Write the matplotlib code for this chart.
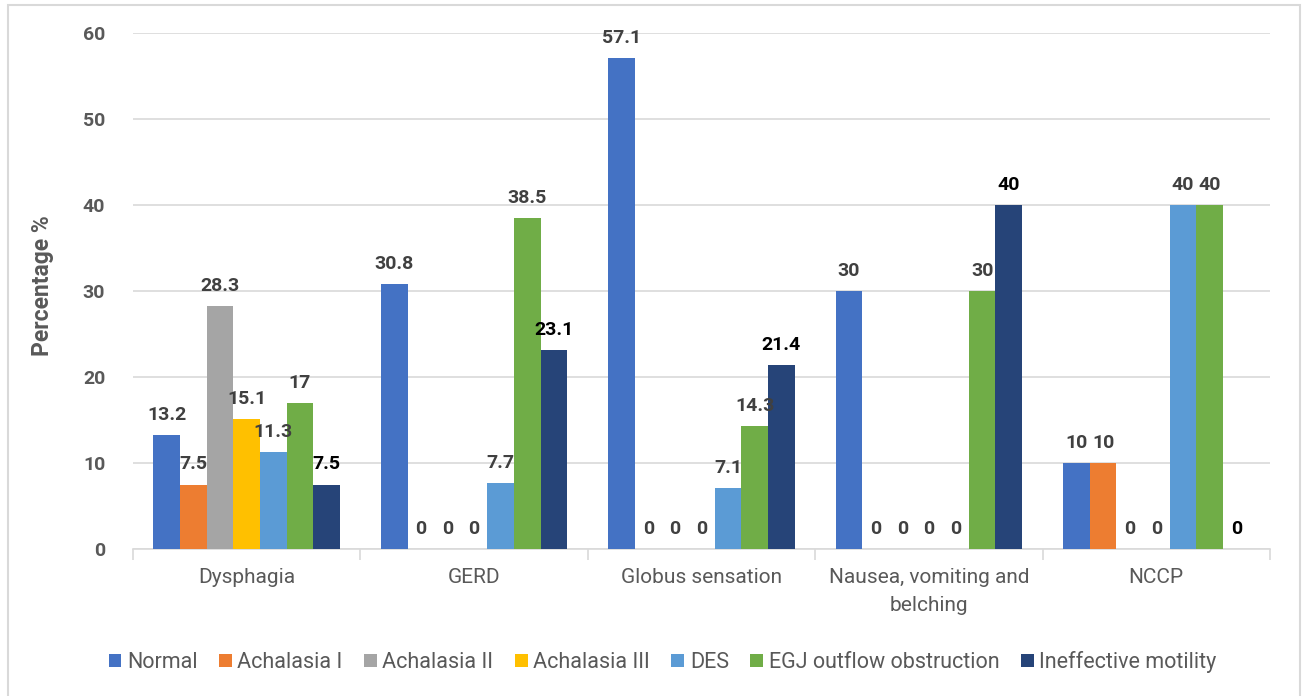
import matplotlib
matplotlib.use("Agg")
import matplotlib.pyplot as plt
from matplotlib.patches import Rectangle
import numpy as np

plt.rcParams['font.family'] = ['Roboto', 'DejaVu Sans']

categories = ["Dysphagia", "GERD", "Globus sensation", "Nausea, vomiting and\nbelching", "NCCP"]
series_names = ["Normal", "Achalasia I", "Achalasia II", "Achalasia III", "DES",
                "EGJ outflow obstruction", "Ineffective motility"]
colors = ["#4472C4", "#ED7D31", "#A5A5A5", "#FFC000", "#5B9BD5", "#70AD47", "#264478"]

normal = [13.2, 30.8, 57.1, 30, 10]
achalasia_1 = [7.5, 0, 0, 0, 10]
achalasia_2 = [28.3, 0, 0, 0, 0]
achalasia_3 = [15.1, 0, 0, 0, 0]
des = [11.3, 7.7, 7.1, 0, 40]
egj = [17, 38.5, 14.3, 30, 40]
ineffective = [7.5, 23.1, 21.4, 40, 0]
values = [normal, achalasia_1, achalasia_2, achalasia_3, des, egj, ineffective]

fig = plt.figure(figsize=(13.04, 6.96), dpi=100)
ax = fig.add_axes([133/1304, 1 - 549/696, 1137/1304, 516/696])

n = len(series_names)
x = np.arange(len(categories))
w = 0.82 / n
for i, (name, vals) in enumerate(zip(series_names, values)):
    pos = x - 0.41 + w * (i + 0.5)
    ax.bar(pos, vals, width=w, color=colors[i], label=name, zorder=3)
    lab_col = "#000000" if i == n - 1 else "#404040"
    for p, v in zip(pos, vals):
        ax.annotate(f"{v:g}", (p, v), xytext=(0, 8), textcoords="offset points",
                    ha="center", va="bottom", fontsize=14, fontweight="bold",
                    color=lab_col, zorder=4)

ax.set_xlim(-0.5, len(categories) - 0.5)
ax.set_ylim(0, 60)
ax.set_yticks(range(0, 61, 10))
ax.grid(axis="y", color="#d9d9d9", linewidth=1.2, zorder=0)
for s in ["top", "right", "left"]:
    ax.spines[s].set_visible(False)
ax.spines["bottom"].set_color("#d9d9d9")
ax.spines["bottom"].set_linewidth(1.2)

# category separators as major ticks, names on minor ticks
ax.set_xticks(np.arange(-0.5, len(categories), 1.0))
ax.set_xticklabels([])
ax.set_xticks(x, minor=True)
ax.set_xticklabels(categories, minor=True, fontsize=15, color="#595959", linespacing=1.6)
ax.tick_params(axis="x", which="major", length=8, color="#d9d9d9", width=1.2)
ax.tick_params(axis="x", which="minor", length=0, pad=14)
ax.tick_params(axis="y", length=0, pad=20, labelsize=14, labelcolor="#595959")
for t in ax.get_yticklabels():
    t.set_fontweight("bold")

fig.text(42/1304, 1 - 286/696, "Percentage %", rotation=90, ha="center", va="center",
         fontsize=16.5, fontweight="bold", color="#595959")

leg = fig.legend(loc="center", bbox_to_anchor=(0.508, 1 - 662/696), ncol=n, frameon=False,
                 fontsize=15.5, handlelength=0.6, handleheight=0.6, handletextpad=0.25,
                 columnspacing=1.0, labelcolor="#595959")

fig.patches.append(Rectangle((8/1304, -0.02), 1292/1304, 1.02 - 5/696, transform=fig.transFigure,
                             fill=False, edgecolor="#d9d9d9", linewidth=1.5))

fig.savefig("out.png", dpi=100)
